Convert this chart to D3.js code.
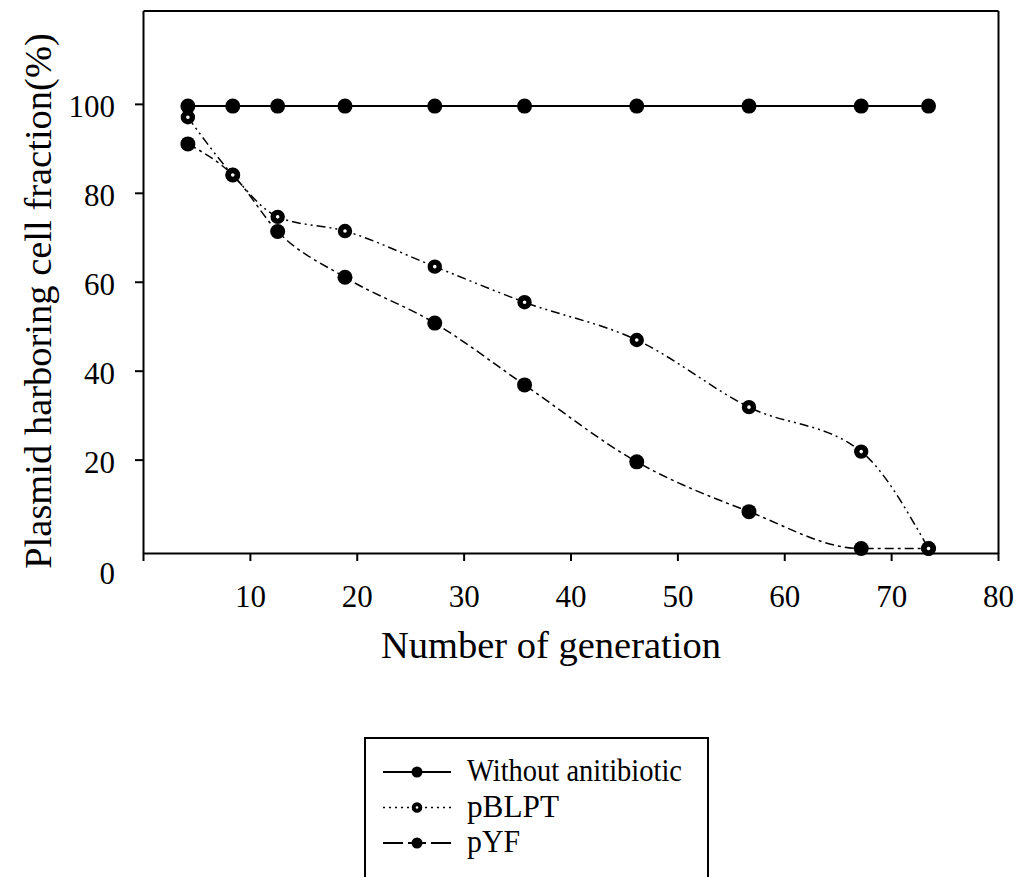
<!DOCTYPE html>
<html>
<head>
<meta charset="utf-8">
<script src="https://cdn.jsdelivr.net/npm/d3@7"></script>
<style>
  html, body { margin: 0; padding: 0; background: #fff; }
  svg { display: block; font-family: "Liberation Serif", "Times New Roman", serif; }
</style>
</head>
<body>
<svg id="chart" width="1022" height="877"></svg>
<script>
// Number of generations at each sampling point
const generations = [4.2, 8.4, 12.6, 18.9, 27.3, 35.7, 46.2, 56.7, 67.2, 73.5];
// Plasmid harboring cell fraction (%) per series
const withoutAntibiotic = [99.5, 99.5, 99.5, 99.5, 99.5, 99.5, 99.5, 99.5, 99.5, 99.5];
const pBLPT = [97, 84, 74.6, 71.4, 63.4, 55.4, 46.9, 31.8, 21.8, 0];
const pYF = [91, 84, 71.3, 61, 50.7, 36.8, 19.5, 8.3, 0, 0];
// Tick values
const xTicks = [0, 10, 20, 30, 40, 50, 60, 70, 80];
const yTicks = [0, 20, 40, 60, 80, 100];
const seriesNames = ["Without anitibiotic", "pBLPT", "pYF"];

const svg = d3.select("#chart");
const plotLeft = 143, plotRight = 998, plotTop = 10.5, plotBottom = 553;

const x = d3.scaleLinear().domain([0, 80]).range([plotLeft, plotRight]);
const y = d3.scaleLinear().domain([-1, 121]).range([plotBottom, plotTop]);

function styleAxis(g) {
  g.selectAll("path.domain").attr("stroke", "#000").attr("stroke-width", 2);
  g.selectAll(".tick line").attr("stroke", "#000").attr("stroke-width", 2);
  g.selectAll("text").attr("fill", "#000").attr("font-size", 31)
    .attr("font-family", "'Liberation Serif', 'Times New Roman', serif");
}

// Frame: top and right edges
svg.append("g").attr("transform", `translate(0,${plotTop})`)
  .call(d3.axisTop(x).tickValues([]).tickSizeOuter(0)).call(styleAxis);
svg.append("g").attr("transform", `translate(${plotRight},0)`)
  .call(d3.axisRight(y).tickValues([]).tickSizeOuter(0)).call(styleAxis);

// Bottom axis
const gx = svg.append("g").attr("transform", `translate(0,${plotBottom})`)
  .call(d3.axisBottom(x).tickValues(xTicks).tickSize(8).tickSizeOuter(0)
    .tickFormat(d => d === 0 ? "" : d))
  .call(styleAxis);
gx.selectAll(".tick text").attr("y", 54).attr("dy", 0);

// Left axis
const gy = svg.append("g").attr("transform", `translate(${plotLeft},0)`)
  .call(d3.axisLeft(y).tickValues(yTicks).tickSize(8).tickSizeOuter(0))
  .call(styleAxis);
gy.selectAll(".tick text").attr("x", -28).attr("dy", "0.4em");
gy.selectAll(".tick").filter(d => d === 0).each(function () {
  d3.select(this).select("line").remove();
  d3.select(this).select("text").attr("dy", "1.12em");
});

// Axis titles
svg.append("text")
  .attr("x", 551).attr("y", 658)
  .attr("text-anchor", "middle").attr("font-size", 38.5).attr("fill", "#000")
  .text("Number of generation");
svg.append("text")
  .attr("transform", "translate(51,301) rotate(-90)")
  .attr("text-anchor", "middle").attr("font-size", 38.5).attr("fill", "#000")
  .text("Plasmid harboring cell fraction(%)");

// Series
const series = [
  { name: seriesNames[0], values: withoutAntibiotic, dash: null, width: 2, open: false },
  { name: seriesNames[1], values: pBLPT, dash: "9,4,2,4,2,4", width: 1.5, open: true },
  { name: seriesNames[2], values: pYF, dash: "9,4,3,4", width: 1.5, open: false }
];
const drawOrder = [series[0], series[2], series[1]];

const line = d3.line()
  .x(d => x(d[0])).y(d => y(d[1]))
  .curve(d3.curveMonotoneX);

drawOrder.forEach(s => {
  const pts = generations.map((g, i) => [g, s.values[i]]);
  svg.append("path")
    .datum(pts)
    .attr("d", line)
    .attr("fill", "none")
    .attr("stroke", "#000")
    .attr("stroke-width", s.width)
    .attr("stroke-dasharray", s.dash);
});

// Filled disc, or a thick ring with a small white centre
function marker(sel, open, r) {
  if (open) {
    sel.attr("r", r * 0.6).attr("fill", "#fff").attr("stroke", "#000").attr("stroke-width", r * 0.72);
  } else {
    sel.attr("r", r).attr("fill", "#000").attr("stroke", "none");
  }
}

drawOrder.forEach(s => {
  svg.append("g").selectAll("circle")
    .data(generations.map((g, i) => [g, s.values[i]]))
    .join("circle")
    .attr("cx", d => x(d[0])).attr("cy", d => y(d[1]))
    .call(marker, s.open, 7.5);
});

// Legend
const legend = svg.append("g");
legend.append("rect")
  .attr("x", 365).attr("y", 738).attr("width", 343).attr("height", 170)
  .attr("fill", "#fff").attr("stroke", "#000").attr("stroke-width", 2);

const legendDash = ["none", "2,4", "20,5,6,5"];
const legendLen = [215, 92, 53];
series.forEach((s, i) => {
  const ly = 772 + i * 35.5;
  const row = legend.append("g");
  [[383, 417], [451, 417]].forEach(([a, b]) => {
    row.append("line")
      .attr("x1", a).attr("x2", b).attr("y1", ly).attr("y2", ly)
      .attr("stroke", "#000").attr("stroke-width", i === 1 ? 1.5 : 2)
      .attr("stroke-dasharray", legendDash[i]);
  });
  row.append("circle").attr("cx", 417).attr("cy", ly).call(marker, s.open, 5.5);
  row.append("text")
    .attr("x", 467).attr("y", ly + 9)
    .attr("font-size", 32).attr("fill", "#000")
    .attr("textLength", legendLen[i]).attr("lengthAdjust", "spacingAndGlyphs")
    .text(s.name);
});
</script>
</body>
</html>
